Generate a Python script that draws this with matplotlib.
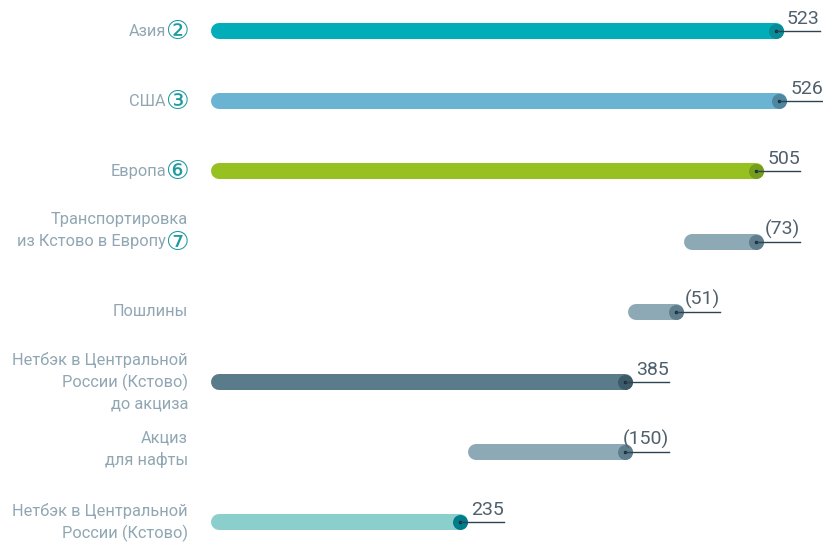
import matplotlib
matplotlib.use("Agg")
from matplotlib import pyplot as plt
from matplotlib import font_manager

# data: each bar runs from start to end
labels = ["Азия", "США", "Европа", "Транспортировка\nиз Кстово в Европу",
          "Пошлины", "Нетбэк в Центральной\nРоссии (Кстово)\nдо акциза",
          "Акциз\nдля нафты", "Нетбэк в Центральной\nРоссии (Кстово)"]
marks = ["②", "③", "⑥", "⑦", "", "", "", ""]
starts = [0, 0, 0, 432, 381, 0, 235, 0]
ends = [523, 526, 505, 505, 432, 385, 385, 235]
value_labels = ["523", "526", "505", "(73)", "(51)", "385", "(150)", "235"]
bar_colors = ["#00adb8", "#6ab3d3", "#97c120", "#8ea9b6", "#8ea9b6",
              "#5a7b8a", "#8ea9b6", "#8acfcb"]
dot_colors = ["#0a8c98", "#4f86a0", "#779d1c", "#5e7e8e", "#5e7e8e",
              "#3d5a68", "#5e7e8e", "#007d8a"]
label_dy = [0, 0, 0, -11, 0, 0, -3, 0]   # pixels, vertical shift of left labels

# narrow font for the numbers if it is there
names = {f.name for f in font_manager.fontManager.ttflist}
num_font = "Liberation Sans Narrow" if "Liberation Sans Narrow" in names else "Roboto"

W, H = 823, 544
fig = plt.figure(figsize=(W / 100, H / 100), dpi=100)
ax = fig.add_axes([0, 0, 1, 1])
ax.axis("off")

scale = 1.095          # pixels per unit
x0 = 211               # pixel of value 0
ax.set_xlim(-x0 / scale, (W - x0) / scale)
row_h = 70.2
top = 31
ax.set_ylim((H - top) / row_h, -top / row_h)
PX = 1 / scale         # data units per pixel

cap = 8 * PX
lw = 16 * 0.72

text_col = "#90a7b3"
num_col = "#4f606c"
mark_col = "#1f9aa0"

for i in range(len(labels)):
    a, b = starts[i] + cap, ends[i] - cap
    ax.plot([a, b], [i, i], color=bar_colors[i], lw=lw,
            solid_capstyle="round", zorder=2)
    ax.plot(b, i, "o", ms=15 * 0.72, color=dot_colors[i], mec="none", zorder=3)
    ax.plot(b, i, "o", ms=2.5, color="#102a35", mec="none", zorder=4)
    ax.plot([b, b + 44 * PX], [i, i], color="#2d4350", lw=1.0, zorder=4)
    ax.annotate(value_labels[i], (b + 44 * PX, i), xytext=(0, 7),
                textcoords="offset pixels", ha="right", va="baseline",
                fontsize=14, color=num_col, family=num_font,
                annotation_clip=False)

    # left labels
    lines = labels[i].split("\n")
    n = len(lines)
    for j, line in enumerate(lines):
        dy = label_dy[i] + (j - (n - 1) / 2) * 22
        right = 188
        if marks[i] and j == n - 1:
            right = 166
        ax.annotate(line, (0, i), xytext=(right - x0, -dy),
                    textcoords="offset pixels", ha="right", va="center",
                    fontsize=11.8, color=text_col, family="Roboto",
                    annotation_clip=False)
        if marks[i] and j == n - 1:
            ax.annotate(marks[i], (0, i), xytext=(177 - x0, -dy - 1),
                        textcoords="offset pixels", ha="center", va="center",
                        fontsize=19, color=mark_col,
                        family=["DejaVu Sans", "Noto Sans CJK JP"],
                        annotation_clip=False)

fig.savefig("out.png", dpi=100)
